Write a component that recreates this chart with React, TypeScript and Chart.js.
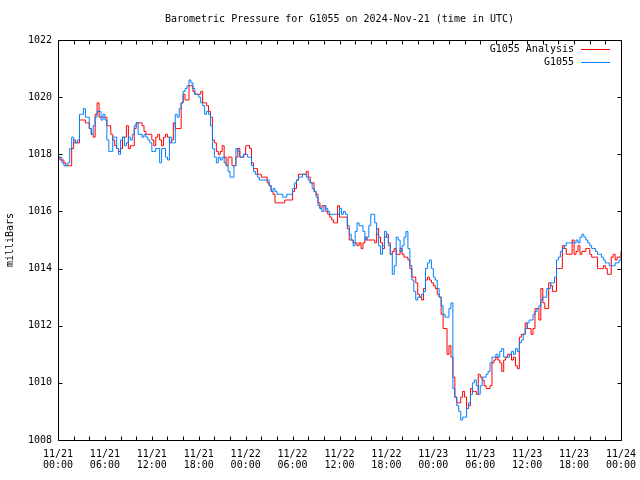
import React, { useEffect, useRef } from "react";
import { Chart, registerables } from "chart.js";

Chart.register(...registerables);

// Quarter-hourly samples from 11/21 00:00 UTC to 11/24 00:00 UTC (mb)
const analysisValues = [
  1017.9, 1017.8, 1017.8, 1017.7, 1017.6, 1017.6, 1017.6, 1018.2, 1018.5, 1018.4,
  1018.4, 1019.2, 1019.2, 1019.2, 1019.1, 1019.1, 1018.9, 1018.7, 1018.6, 1019.4,
  1019.8, 1019.3, 1019.3, 1019.3, 1019.3, 1019.0, 1019.0, 1018.7, 1018.5, 1018.3,
  1018.2, 1018.1, 1018.2, 1018.6, 1018.6, 1019.0, 1018.2, 1018.3, 1018.3, 1018.9,
  1019.1, 1019.1, 1019.1, 1019.0, 1018.8, 1018.7, 1018.7, 1018.7, 1018.5, 1018.3,
  1018.6, 1018.7, 1018.5, 1018.3, 1018.6, 1018.7, 1018.6, 1018.4, 1018.5, 1019.1,
  1018.9, 1018.9, 1018.9, 1019.8, 1020.1, 1019.9, 1019.9, 1020.4, 1020.4, 1020.2,
  1020.1, 1020.1, 1020.1, 1020.2, 1019.8, 1019.8, 1019.7, 1019.5, 1019.3, 1018.5,
  1018.4, 1018.1, 1018.0, 1018.1, 1018.3, 1017.9, 1017.6, 1017.9, 1017.9, 1017.6,
  1017.6, 1017.9, 1018.2, 1017.9, 1017.9, 1018.0, 1018.3, 1018.3, 1018.2, 1017.7,
  1017.5, 1017.5, 1017.3, 1017.3, 1017.2, 1017.2, 1017.2, 1017.0, 1016.9, 1016.7,
  1016.6, 1016.3, 1016.3, 1016.3, 1016.3, 1016.3, 1016.4, 1016.4, 1016.4, 1016.4,
  1016.7, 1016.8, 1017.1, 1017.3, 1017.3, 1017.3, 1017.3, 1017.4, 1017.2, 1017.0,
  1017.0, 1016.7, 1016.6, 1016.3, 1016.1, 1016.2, 1016.2, 1016.0, 1015.9, 1015.8,
  1015.7, 1015.6, 1015.6, 1016.2, 1015.8, 1015.8, 1015.8, 1015.8, 1015.4, 1015.0,
  1015.0, 1014.9, 1014.9, 1014.8, 1014.9, 1014.7, 1014.9, 1015.1, 1015.0, 1015.0,
  1015.0, 1015.0, 1014.9, 1015.4, 1015.1, 1014.9, 1014.7, 1015.1, 1015.2, 1014.9,
  1014.5, 1014.6, 1014.7, 1014.5, 1014.5, 1014.7, 1014.5, 1014.4, 1014.4, 1014.3,
  1014.0, 1013.7, 1013.7, 1013.5, 1013.1, 1013.0, 1012.9, 1013.3, 1013.6, 1013.7,
  1013.6, 1013.5, 1013.4, 1013.3, 1013.1, 1013.0, 1012.4, 1011.9, 1011.9, 1011.0,
  1011.3, 1010.9, 1010.2, 1009.5, 1009.3, 1009.3, 1009.5, 1009.7, 1009.5, 1009.1,
  1009.2, 1009.8, 1009.7, 1009.7, 1009.6, 1010.3, 1010.2, 1010.1, 1009.9, 1009.8,
  1009.8, 1009.9, 1010.7, 1010.8, 1010.9, 1010.8, 1010.7, 1010.4, 1010.8, 1010.9,
  1011.0, 1011.0, 1010.8, 1010.9, 1010.6, 1010.5, 1011.6, 1011.7, 1011.7, 1012.1,
  1011.9, 1011.9, 1011.7, 1011.9, 1012.6, 1012.6, 1012.2, 1013.3, 1012.8, 1012.6,
  1012.6, 1013.5, 1013.4, 1013.2, 1013.2, 1014.0, 1014.0, 1014.0, 1014.8, 1014.7,
  1014.5, 1014.5, 1014.5, 1015.0, 1014.5, 1014.6, 1014.8, 1014.5, 1014.6, 1014.6,
  1014.7, 1014.7, 1014.5, 1014.4, 1014.4, 1014.4, 1014.0, 1014.0, 1014.0, 1014.1,
  1014.0, 1013.8, 1013.8, 1014.4, 1014.5, 1014.3, 1014.4, 1014.4, 1014.6,
];

const stationValues = [
  1017.9, 1017.9, 1017.7, 1017.6, 1017.6, 1017.7, 1018.2, 1018.6, 1018.4, 1018.4,
  1018.5, 1019.4, 1019.4, 1019.6, 1019.3, 1019.3, 1018.9, 1018.7, 1019.0, 1019.3,
  1019.5, 1019.5, 1019.2, 1019.4, 1019.2, 1018.5, 1018.1, 1018.1, 1018.6, 1018.6,
  1018.2, 1018.0, 1018.5, 1018.6, 1018.3, 1018.4, 1018.6, 1018.5, 1018.7, 1019.0,
  1019.1, 1018.7, 1018.7, 1018.6, 1018.7, 1018.6, 1018.5, 1018.4, 1018.1, 1018.1,
  1018.2, 1018.2, 1017.7, 1018.2, 1018.2, 1017.9, 1017.8, 1018.6, 1018.4, 1018.4,
  1019.4, 1019.3, 1019.6, 1019.8, 1020.2, 1020.3, 1020.4, 1020.6, 1020.5, 1020.3,
  1020.1, 1020.1, 1020.0, 1019.8, 1019.7, 1019.4, 1019.5, 1019.4, 1019.0, 1018.2,
  1017.9, 1017.7, 1017.9, 1017.8, 1017.9, 1017.7, 1017.6, 1017.4, 1017.2, 1017.2,
  1017.6, 1018.2, 1018.1, 1017.9, 1017.9, 1018.0, 1018.0, 1017.9, 1017.9, 1017.6,
  1017.4, 1017.3, 1017.2, 1017.1, 1017.1, 1017.1, 1017.1, 1017.1, 1016.9, 1016.7,
  1016.8, 1016.7, 1016.6, 1016.6, 1016.6, 1016.5, 1016.5, 1016.6, 1016.6, 1016.6,
  1016.8, 1017.0, 1017.1, 1017.2, 1017.2, 1017.3, 1017.3, 1017.2, 1017.1, 1017.0,
  1016.8, 1016.7, 1016.5, 1016.2, 1016.1, 1016.0, 1016.2, 1016.1, 1016.0, 1015.9,
  1015.9, 1015.9, 1015.9, 1015.9, 1016.1, 1015.9, 1016.0, 1015.9, 1015.5, 1015.2,
  1015.0, 1014.8, 1015.3, 1015.6, 1015.5, 1015.5, 1015.3, 1015.0, 1015.1, 1015.5,
  1015.9, 1015.9, 1015.6, 1015.2, 1014.8, 1014.5, 1014.8, 1015.3, 1015.1, 1014.8,
  1014.5, 1013.8, 1014.1, 1015.1, 1015.0, 1014.6, 1014.8, 1015.1, 1015.3, 1014.7,
  1014.1, 1013.6, 1013.2, 1012.9, 1013.0, 1013.0, 1013.1, 1013.2, 1014.0, 1014.2,
  1014.3, 1014.0, 1013.7, 1013.6, 1013.3, 1013.0, 1012.7, 1012.4, 1012.3, 1012.3,
  1012.6, 1012.8, 1009.8, 1009.5, 1009.2, 1009.0, 1008.7, 1008.8, 1008.8, 1009.1,
  1009.3, 1009.6, 1010.0, 1010.1, 1009.9, 1009.6, 1009.9, 1010.2, 1010.2, 1010.3,
  1010.4, 1010.7, 1010.9, 1010.9, 1011.0, 1010.9, 1011.1, 1011.2, 1010.9, 1010.9,
  1010.9, 1011.0, 1011.1, 1011.0, 1011.2, 1011.1, 1011.4, 1011.5, 1011.7, 1011.9,
  1012.1, 1012.2, 1012.2, 1012.4, 1012.5, 1012.6, 1012.7, 1012.9, 1013.0, 1013.0,
  1013.3, 1013.3, 1013.5, 1013.5, 1013.7, 1014.3, 1014.4, 1014.6, 1014.7, 1014.8,
  1014.9, 1014.9, 1014.9, 1014.9, 1014.9, 1015.0, 1014.9, 1015.1, 1015.2, 1015.1,
  1015.0, 1014.9, 1014.8, 1014.7, 1014.7, 1014.6, 1014.5, 1014.5, 1014.4, 1014.3,
  1014.2, 1014.2, 1014.1, 1014.1, 1014.1, 1014.2, 1014.2, 1014.3, 1014.4,
];

const sampleStepHours = 0.25;
const sampleHours = stationValues.map((_, i) => i * sampleStepHours);

const tickDates = ["11/21", "11/21", "11/21", "11/21", "11/22", "11/22", "11/22", "11/22", "11/23", "11/23", "11/23", "11/23", "11/24"];
const tickTimes = ["00:00", "06:00", "12:00", "18:00", "00:00", "06:00", "12:00", "18:00", "00:00", "06:00", "12:00", "18:00", "00:00"];

const seriesNames = ["G1055 Analysis", "G1055"];
const seriesColors = ["#ff0000", "#0080ff"];
const chartTitle = "Barometric Pressure for G1055 on 2024-Nov-21 (time in UTC)";
const yTitle = "milliBars";
const yMin = 1008;
const yMax = 1022;
const yStep = 2;
const xMax = 72;
const xLabelStep = 6;
const xTickStep = 2;

const FONT = "'DejaVu Sans Mono', 'Liberation Mono', monospace";

const framePlugin = {
  id: "gnuplotFrame",
  afterDraw(chart: any) {
    const { ctx, chartArea: a, scales } = chart;
    const L = Math.round(a.left) + 0.5;
    const R = Math.round(a.right) + 0.5;
    const T = Math.round(a.top) + 0.5;
    const B = Math.round(a.bottom) + 0.5;
    ctx.save();
    ctx.strokeStyle = "#000";
    ctx.lineWidth = 1;
    ctx.beginPath();
    ctx.moveTo(L, T);
    ctx.lineTo(R, T);
    ctx.lineTo(R, B);
    ctx.lineTo(L, B);
    ctx.closePath();
    for (let h = 0; h <= xMax; h += xTickStep) {
      const px = Math.round(scales.x.getPixelForValue(h)) + 0.5;
      ctx.moveTo(px, B);
      ctx.lineTo(px, B - 4);
      ctx.moveTo(px, T);
      ctx.lineTo(px, T + 4);
    }
    for (let v = yMin; v <= yMax; v += yStep) {
      const py = Math.round(scales.y.getPixelForValue(v)) + 0.5;
      ctx.moveTo(L, py);
      ctx.lineTo(L + 4, py);
      ctx.moveTo(R, py);
      ctx.lineTo(R - 4, py);
    }
    ctx.stroke();

    // title
    ctx.fillStyle = "#000";
    ctx.font = "10px " + FONT;
    ctx.textAlign = "center";
    ctx.textBaseline = "middle";
    ctx.fillText(chartTitle, (a.left + a.right) / 2, 19);

    // legend
    const textRight = 574;
    const lineL = 581;
    const lineR = 610;
    const rows = [49.5, 62.5];
    ctx.textAlign = "right";
    seriesNames.forEach((name, i) => {
      ctx.fillStyle = "#000";
      ctx.fillText(name, textRight, rows[i]);
      ctx.strokeStyle = seriesColors[i];
      ctx.beginPath();
      ctx.moveTo(lineL, rows[i]);
      ctx.lineTo(lineR, rows[i]);
      ctx.stroke();
    });
    ctx.restore();
  },
};

export default function App() {
  const canvasRef = useRef<HTMLCanvasElement | null>(null);

  useEffect(() => {
    const canvas = canvasRef.current;
    if (!canvas) return;
    const chart = new Chart(canvas, {
      type: "line",
      data: {
        datasets: [
          {
            label: seriesNames[0],
            data: sampleHours.map((h, i) => ({ x: h, y: analysisValues[i] })),
            borderColor: seriesColors[0],
            backgroundColor: seriesColors[0],
            borderWidth: 1,
            pointRadius: 0,
            stepped: true,
            order: 2,
          },
          {
            label: seriesNames[1],
            data: sampleHours.map((h, i) => ({ x: h, y: stationValues[i] })),
            borderColor: seriesColors[1],
            backgroundColor: seriesColors[1],
            borderWidth: 1,
            pointRadius: 0,
            stepped: true,
            order: 1,
          },
        ],
      },
      options: {
        animation: false,
        responsive: false,
        maintainAspectRatio: false,
        devicePixelRatio: 1,
        layout: { padding: { top: 40, right: 19, left: 0, bottom: 0 } },
        plugins: {
          legend: { display: false },
          title: { display: false },
          tooltip: { enabled: false },
        },
        scales: {
          x: {
            type: "linear",
            min: 0,
            max: xMax,
            grid: { display: false, drawTicks: false },
            border: { display: false },
            ticks: {
              stepSize: xLabelStep,
              autoSkip: false,
              maxRotation: 0,
              padding: 9,
              color: "#000",
              font: { family: FONT, size: 10, lineHeight: 1.1 },
              callback: (value: any) => {
                const i = Math.round(Number(value) / xLabelStep);
                return [tickDates[i], tickTimes[i]];
              },
            },
            afterFit: (scale: any) => {
              scale.height = 40;
              scale.paddingLeft = 0;
              scale.paddingRight = 0;
            },
          },
          y: {
            type: "linear",
            min: yMin,
            max: yMax,
            grid: { display: false, drawTicks: false },
            border: { display: false },
            title: {
              display: true,
              text: yTitle,
              color: "#000",
              font: { family: FONT, size: 10 },
              padding: 4,
            },
            ticks: {
              stepSize: yStep,
              padding: 6,
              color: "#000",
              font: { family: FONT, size: 10 },
              callback: (value: any) => String(value),
            },
            afterFit: (scale: any) => {
              scale.width = 58;
              scale.paddingTop = 0;
              scale.paddingBottom = 0;
            },
          },
        },
      },
      plugins: [framePlugin],
    });
    return () => chart.destroy();
  }, []);

  return (
    <div style={{ position: "absolute", left: 0, top: 0, width: 640, height: 480, background: "#fff" }}>
      <canvas ref={canvasRef} width={640} height={480} style={{ display: "block" }} />
    </div>
  );
}
